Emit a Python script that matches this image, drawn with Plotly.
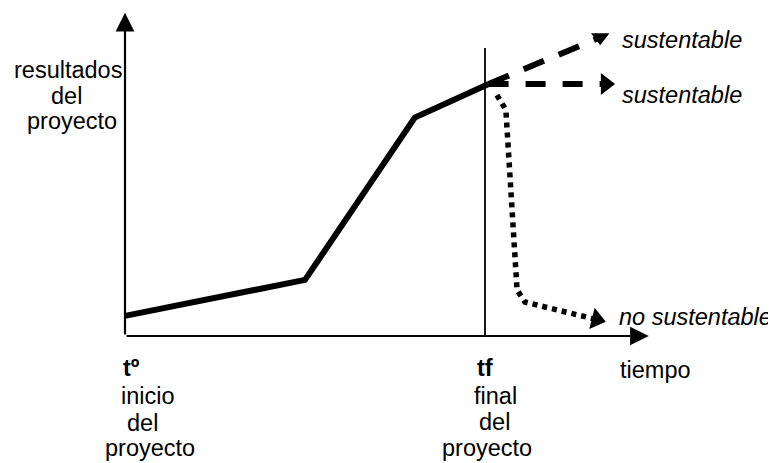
import plotly.graph_objects as go

# ---- data (time units: t0 = 0, tf = 10; results in arbitrary units) ----
t_solid = [0, 5.0, 8.05, 10.1]
r_solid = [6.0, 16.7, 65.0, 75.0]

t_up = [10.1, 13.2]
r_up = [75.0, 88.9]

t_flat = [10.1, 13.35]
r_flat = [75.0, 75.0]

t_down = [10.33, 10.58, 10.89, 11.11, 13.1]
r_down = [71.7, 67.3, 13.7, 10.1, 4.9]

T_START = 0
T_FINAL = 10
T_AXIS_END = 14.55
R_AXIS_END = 96.2
R_TF_LINE = 85.7

W, H = 776, 463
OFF = 8  # page body margin
FONT = "Liberation Sans, Arial, sans-serif"
FS = 23.5

fig = go.Figure()

fig.add_trace(go.Scatter(x=t_solid, y=r_solid, mode="lines",
                         line=dict(color="black", width=6), hoverinfo="skip"))
fig.add_trace(go.Scatter(x=t_up, y=r_up, mode="lines",
                         line=dict(color="black", width=6, dash="22px,16px"),
                         hoverinfo="skip"))
fig.add_trace(go.Scatter(x=t_up[-1:], y=r_up[-1:], mode="markers",
                         marker=dict(symbol="triangle-down", size=16, color="#000000",
                                     opacity=1, line=dict(width=0)),
                         hoverinfo="skip"))
fig.add_trace(go.Scatter(x=t_flat, y=r_flat, mode="lines",
                         line=dict(color="black", width=6, dash="20px,17px"),
                         hoverinfo="skip"))
fig.add_trace(go.Scatter(x=t_flat[-1:], y=r_flat[-1:], mode="markers",
                         marker=dict(symbol="triangle-right", size=19, color="#000000",
                                     opacity=1, line=dict(width=0)),
                         hoverinfo="skip"))
fig.add_trace(go.Scatter(x=t_down, y=r_down, mode="lines",
                         line=dict(color="black", width=5.5, dash="5px,5px"),
                         hoverinfo="skip"))
fig.add_trace(go.Scatter(x=t_down[-1:], y=r_down[-1:], mode="markers",
                         marker=dict(symbol="triangle-right", size=19, color="#000000",
                                     angle=14, opacity=1, line=dict(width=0)),
                         hoverinfo="skip"))

# vertical tf line
fig.add_shape(type="line", x0=T_FINAL, x1=T_FINAL, y0=0, y1=R_TF_LINE,
              line=dict(color="black", width=1.8))

# axes with arrows
fig.add_annotation(x=T_START, y=R_AXIS_END, ax=T_START, ay=0, xref="x", yref="y",
                   axref="x", ayref="y", showarrow=True, arrowhead=2, arrowsize=1.7,
                   arrowwidth=2.2, arrowcolor="black", text="")
fig.add_annotation(x=T_AXIS_END, y=0, ax=T_START, ay=0, xref="x", yref="y",
                   axref="x", ayref="y", showarrow=True, arrowhead=2, arrowsize=1.7,
                   arrowwidth=2.2, arrowcolor="black", text="")


def label(text, px, py, anchor="center", italic=False, bold=False, size=FS):
    if bold:
        text = "<b>" + text + "</b>"
    if italic:
        text = "<i>" + text + "</i>"
    fig.add_annotation(x=(px - OFF) / W, y=1 - (py - OFF) / H, xref="paper", yref="paper",
                       text=text, showarrow=False, xanchor=anchor, yanchor="middle",
                       font=dict(family=FONT, size=size, color="black"))


label("resultados", 68, 70)
label("del", 67, 96)
label("proyecto", 72, 121)

label("sustentable", 620, 40, anchor="left", italic=True)
label("sustentable", 620, 95, anchor="left", italic=True)
label("no sustentable", 617, 317, anchor="left", italic=True)
label("tiempo", 618, 370, anchor="left")

label("tº", 121, 368, anchor="left", bold=True)
label("inicio", 148, 396)
label("del", 142, 423)
label("proyecto", 150, 448)

label("tf", 475, 368, anchor="left", bold=True)
label("final", 495, 396)
label("del", 494, 422)
label("proyecto", 487, 448)

X_PX0 = 125 - OFF
Y_PX0 = 336 - OFF
x0 = -X_PX0 / 36.0
x1 = (W - X_PX0) / 36.0
y0 = -(H - Y_PX0) / 3.36
y1 = Y_PX0 / 3.36

fig.update_layout(
    width=W, height=H, margin=dict(l=0, r=0, t=0, b=0),
    paper_bgcolor="white", plot_bgcolor="white", showlegend=False,
    xaxis=dict(range=[x0, x1], visible=False, fixedrange=True),
    yaxis=dict(range=[y0, y1], visible=False, fixedrange=True),
)

fig.write_html("out.html", config={"displayModeBar": False})
